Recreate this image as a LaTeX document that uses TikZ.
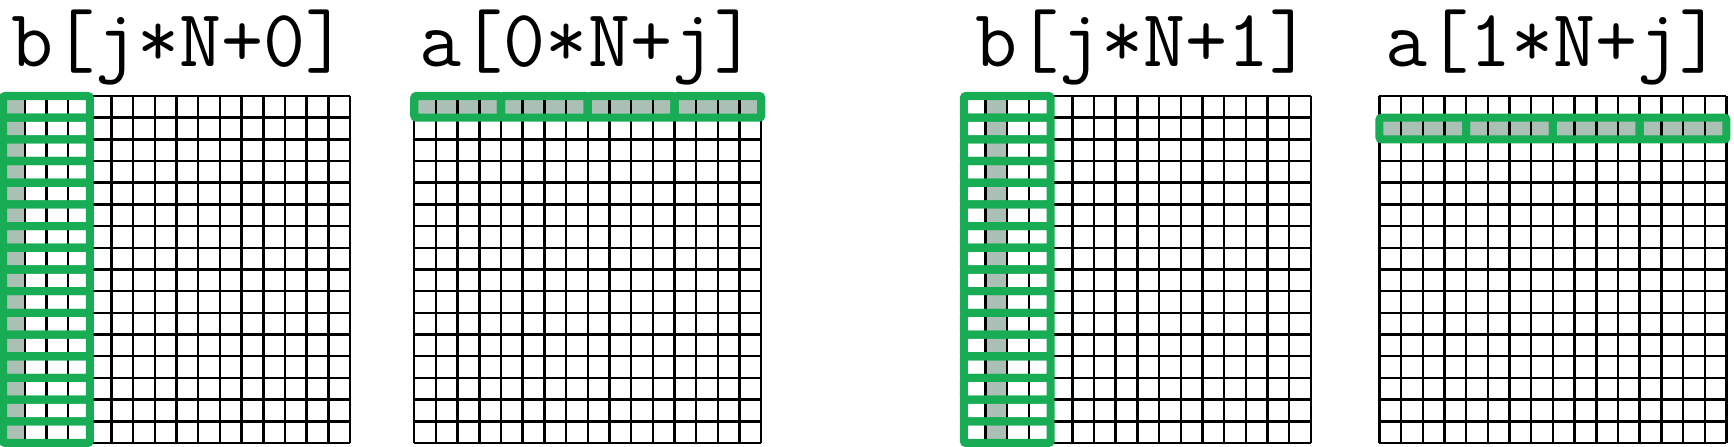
\documentclass[tikz,border=0pt]{standalone}
\usepackage{fontspec}
\definecolor{linegreen}{RGB}{24,172,84}
\definecolor{hitgray}{RGB}{170,192,180}
\tikzset{
  gridline/.style={line width=1.6pt,black,step=0.5cm},
  linebox/.style={draw=linegreen,line width=5.3pt,rounded corners=1.5pt},
  hit/.style={fill=hitgray},
  arrlabel/.style={anchor=base west,inner sep=0pt,font=\fontsize{53.5}{60}\selectfont\ttfamily},
}
\begin{document}
\begin{tikzpicture}[x=0.5cm,y=0.5cm]
    \useasboundingbox (0,0) rectangle (79.95,20.565);
    % b, first pass: column 0 of every row
    \begin{scope}[shift={(0.14,0.14)}]
        \foreach \r in {0,...,15} \fill[hit] (0,\r) rectangle ++(1,1);
        \draw[gridline] (0,0) grid (16,16);
        \foreach \r in {0,...,15} \draw[linebox] (0,\r) rectangle ++(4,1);
    \end{scope}
    % a, first pass: row 0
    \begin{scope}[shift={(19.1,0.14)}]
        \fill[hit] (0,15) rectangle (16,16);
        \draw[gridline] (0,0) grid (16,16);
        \foreach \c in {0,4,8,12} \draw[linebox] (\c,15) rectangle ++(4,1);
    \end{scope}
    % b, second pass: column 1 of every row
    \begin{scope}[shift={(44.44,0.14)}]
        \foreach \r in {0,...,15} \fill[hit] (1,\r) rectangle ++(1,1);
        \draw[gridline] (0,0) grid (16,16);
        \foreach \r in {0,...,15} \draw[linebox] (0,\r) rectangle ++(4,1);
    \end{scope}
    % a, second pass: row 1
    \begin{scope}[shift={(63.6,0.14)}]
        \fill[hit] (0,14) rectangle (16,15);
        \draw[gridline] (0,0) grid (16,16);
        \foreach \c in {0,4,8,12} \draw[linebox] (\c,14) rectangle ++(4,1);
    \end{scope}
    \node[arrlabel] (bzero) at (0.5,17.52) {b[j*N+0]};
    \node[arrlabel] (azero) at (19.35,17.52) {a[0*N+j]};
    \node[arrlabel] (bone) at (44.95,17.52) {b[j*N+1]};
    \node[arrlabel] (aone) at (63.85,17.52) {a[1*N+j]};
\end{tikzpicture}
\end{document}
